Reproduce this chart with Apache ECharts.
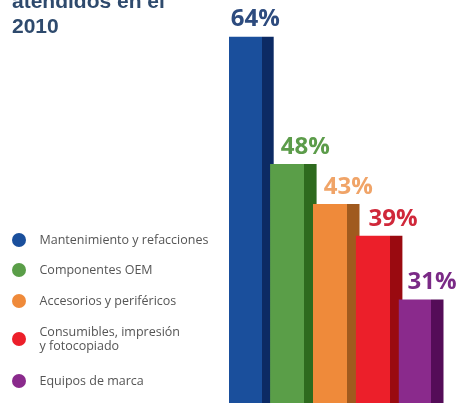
<!DOCTYPE html>
<html>
<head>
<meta charset="utf-8">
<script src="https://cdn.jsdelivr.net/npm/echarts@6/dist/echarts.min.js"></script>
<style>
  html, body { margin: 0; padding: 0; background: #ffffff; }
  #chart { width: 467px; height: 403px; }
</style>
</head>
<body>
<div id="chart"></div>
<script>
// Share of services attended in 2010, by category
const categories = [
  'Mantenimiento y refacciones',
  'Componentes OEM',
  'Accesorios y periféricos',
  'Consumibles, impresión y fotocopiado',
  'Equipos de marca'
];
const values = [64, 48, 43, 39, 31];
const valueLabels = ['64%', '48%', '43%', '39%', '31%'];

// Front face / side face / label colours per category
const frontColors = ['#1a4f9c', '#5a9e48', '#ef8a3a', '#ec1f2a', '#8a2a8c'];
const sideColors  = ['#0c2a64', '#2e6a1e', '#a05a1e', '#9a0a10', '#540c58'];
const labelColors = ['#2d4b7e', '#5c9c4a', '#f0a468', '#d0283a', '#7a2a86'];
const labelShift  = [4, 12, 12, 14, 11];

// Legend rows (top of each row's box)
const legendTops = [233, 263, 294, 318, 374];

const SIDE = 0.73; // where the darker side face begins, as a fraction of bar width

const series = categories.map((name, i) => ({
  name: name,
  type: 'bar',
  stack: 'all',
  barWidth: 46.5,
  data: categories.map((c, j) => (j === i ? values[i] : '-')),
  itemStyle: {
    color: {
      type: 'linear', x: 0, y: 0, x2: 1, y2: 0,
      colorStops: [
        { offset: 0, color: frontColors[i] },
        { offset: SIDE, color: frontColors[i] },
        { offset: SIDE, color: sideColors[i] },
        { offset: 1, color: sideColors[i] }
      ]
    }
  },
  label: {
    show: true,
    position: 'top',
    distance: 5,
    offset: [labelShift[i], 0],
    formatter: () => valueLabels[i],
    color: labelColors[i],
    fontFamily: 'Open Sans',
    fontWeight: 'bold',
    fontSize: 24
  },
  emphasis: { disabled: true }
}));

const legends = categories.map((name, i) => ({
  orient: 'vertical',
  left: 12,
  top: legendTops[i],
  padding: 0,
  icon: 'circle',
  itemWidth: 15,
  itemHeight: 14,
  selectedMode: false,
  data: [{ name: name, itemStyle: { color: frontColors[i] } }],
  formatter: (n) => n.replace('impresión ', 'impresión\n'),
  textStyle: {
    color: '#555555',
    fontFamily: 'Open Sans',
    fontSize: 12.5,
    lineHeight: 14,
    padding: i === 3 ? [14, 0, 0, 8] : [0, 0, 0, 8]
  }
}));

const chart = echarts.init(document.getElementById('chart'), null, { renderer: 'canvas' });
chart.setOption({
  animation: false,
  backgroundColor: '#ffffff',
  title: {
    text: 'atendidos en el\n2010',
    left: 12,
    top: -10,
    padding: 0,
    textStyle: {
      color: '#2e4a6d',
      fontFamily: 'Liberation Sans',
      fontWeight: 'bold',
      fontSize: 21,
      lineHeight: 25
    }
  },
  legend: legends,
  grid: { left: 229, width: 214.5, top: 0, bottom: 0 },
  xAxis: {
    type: 'category',
    data: categories,
    show: false
  },
  yAxis: {
    type: 'value',
    min: 18,
    max: 68.6,
    show: false
  },
  series: series
});
</script>
</body>
</html>
